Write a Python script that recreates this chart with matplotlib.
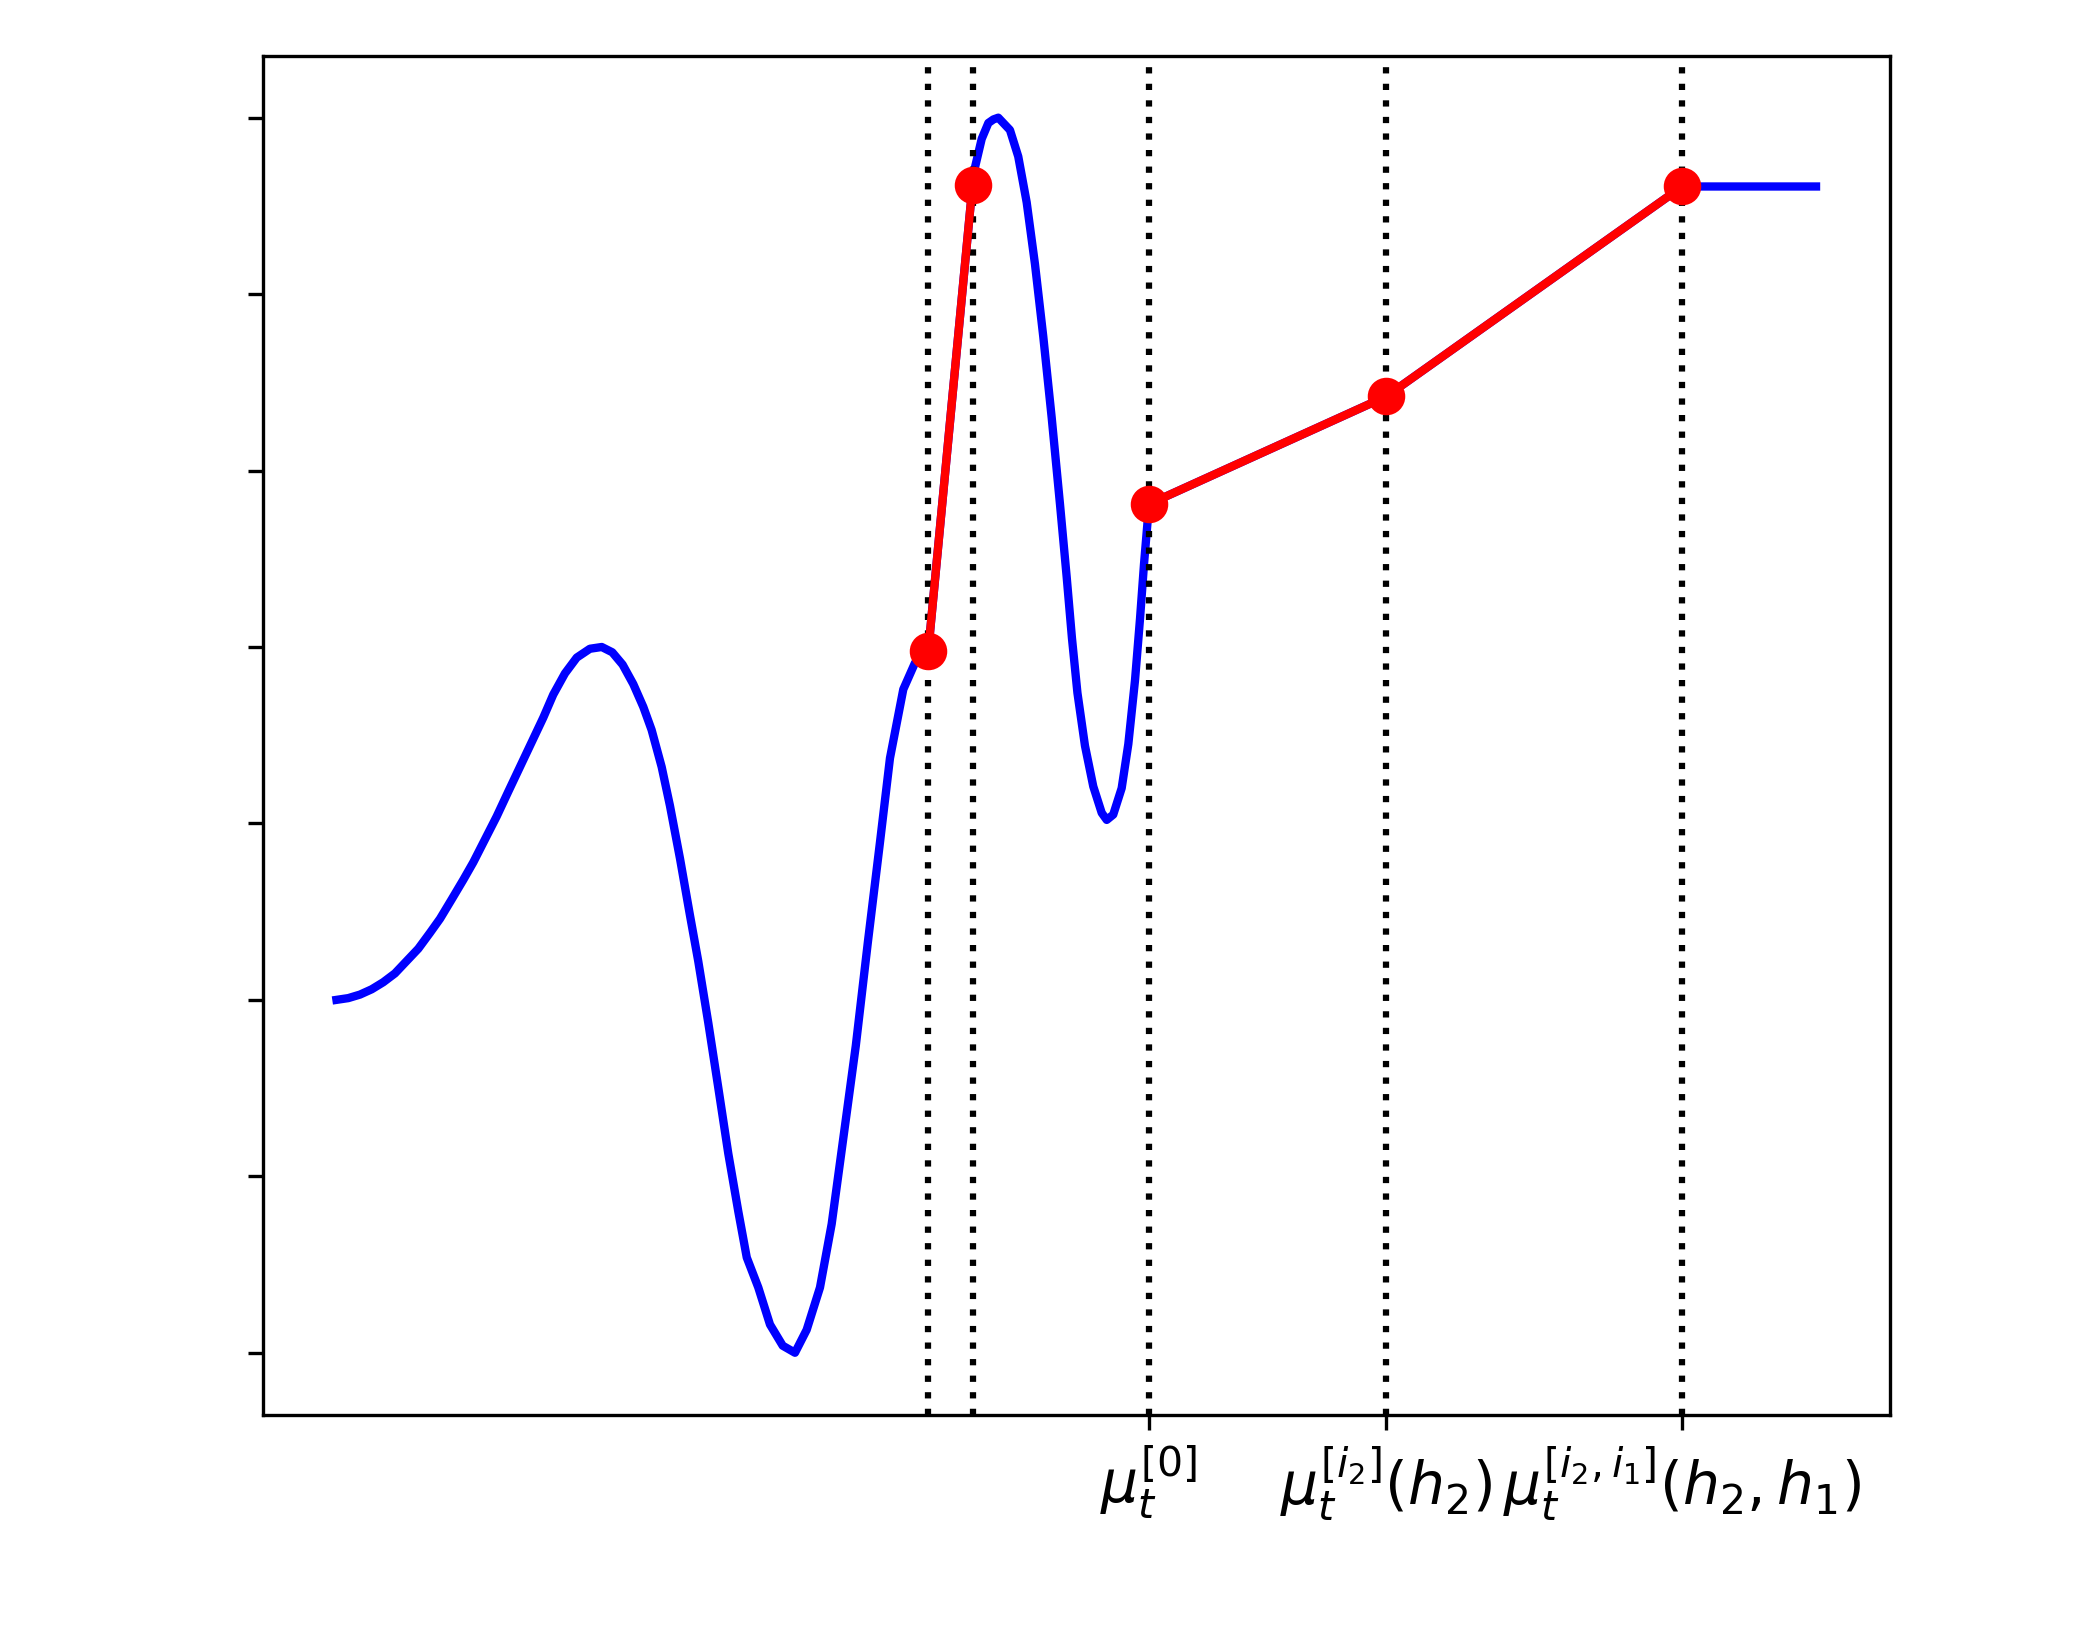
import matplotlib
matplotlib.use("Agg")
import matplotlib.pyplot as plt

# Blue curve (function samples)
curve_x = [0.0, 0.080, 0.159, 0.238, 0.316, 0.395, 0.474, 0.553, 0.632, 0.700,
           0.779, 0.857, 0.925, 1.004, 1.083, 1.161, 1.240, 1.319, 1.398, 1.465,
           1.544, 1.624, 1.713, 1.793, 1.864, 1.934, 2.006, 2.074, 2.130, 2.198,
           2.254, 2.322, 2.389, 2.445, 2.513, 2.581, 2.648, 2.716, 2.773, 2.851,
           2.930, 3.016, 3.099, 3.178, 3.268, 3.347, 3.423, 3.510, 3.592, 3.673,
           3.741, 3.831, 3.910, 4.000,
           4.299, 4.316, 4.361, 4.406, 4.440, 4.473, 4.552, 4.608, 4.665, 4.721,
           4.777, 4.834, 4.890, 4.935, 4.971, 5.008, 5.059, 5.115, 5.172, 5.206,
           5.250, 5.307, 5.352, 5.397, 5.431, 5.458, 5.478, 5.492,
           7.095, 9.096, 10.0]
curve_y = [-1.00, -0.99, -0.97, -0.94, -0.90, -0.85, -0.78, -0.71, -0.62, -0.54,
           -0.43, -0.32, -0.22, -0.09, 0.04, 0.18, 0.32, 0.46, 0.60, 0.73,
           0.85, 0.94, 0.99, 1.00, 0.97, 0.90, 0.79, 0.66, 0.53, 0.32,
           0.10, -0.20, -0.52, -0.78, -1.13, -1.50, -1.87, -2.20, -2.46, -2.63,
           -2.84, -2.96, -3.00, -2.87, -2.63, -2.27, -1.80, -1.26, -0.67, -0.11,
           0.37, 0.76, 0.91, 0.98,
           3.62, 3.72, 3.88, 3.97, 3.99, 4.00, 3.93, 3.78, 3.52, 3.17,
           2.76, 2.30, 1.81, 1.40, 1.05, 0.74, 0.44, 0.21, 0.06, 0.02,
           0.05, 0.20, 0.45, 0.81, 1.16, 1.47, 1.67, 1.81,
           2.42, 3.61, 3.61]

# Red path points (two separate segments: first two points, then last three)
path_x = [4.000, 4.299, 5.492, 7.095, 9.096]
path_y = [0.98, 3.62, 1.81, 2.42, 3.61]
segment_breaks = [2]

# Tick labels for the last three path points
xtick_labels = [r'$\mu_t^{[0]}$', r'$\mu_t^{[i_2]}(h_2)$', r'$\mu_t^{[i_2,i_1]}(h_2,h_1)$']
ytick_values = [-3, -2, -1, 0, 1, 2, 3, 4]

fig = plt.figure(figsize=(7, 1640 / 300), dpi=300)
fig.subplots_adjust(left=0.125, right=0.9, bottom=0.1375, top=0.9659)
ax = fig.add_subplot(111)

ax.plot(curve_x, curve_y, color='blue', lw=2, zorder=2)
for xv in path_x:
    ax.axvline(xv, color='black', ls=':', lw=1.5, zorder=2.5)

bounds = [0] + segment_breaks + [len(path_x)]
for a, b in zip(bounds[:-1], bounds[1:]):
    ax.plot(path_x[a:b], path_y[a:b], color='red', lw=2, marker='o',
            markersize=8, zorder=3)

ax.set_xticks(path_x[2:])
ax.set_xticklabels(xtick_labels, fontsize=14)
ax.set_yticks(ytick_values)
ax.set_yticklabels([])

fig.savefig("out.png", dpi=300)
